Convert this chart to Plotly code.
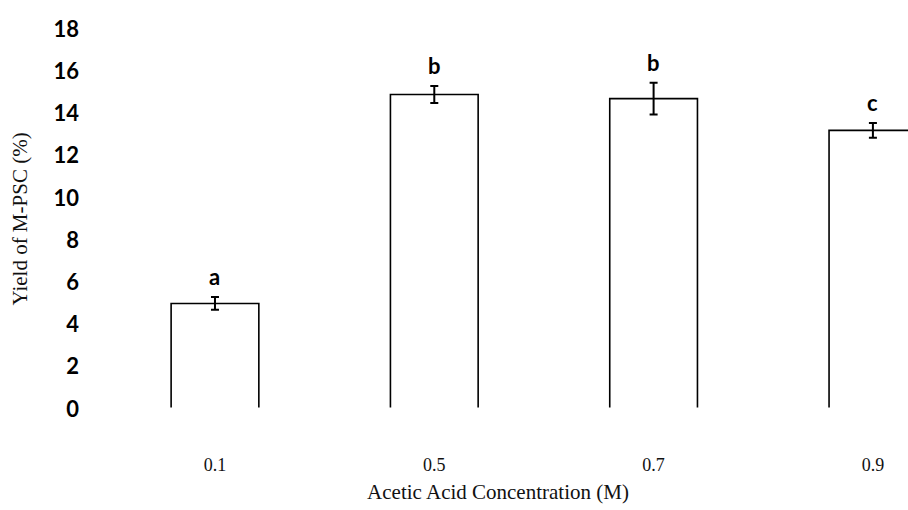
import plotly.graph_objects as go

categories = ["0.1", "0.5", "0.7", "0.9"]
yield_values = [5.0, 14.9, 14.7, 13.2]
yield_errors = [0.3, 0.4, 0.75, 0.35]
group_letters = ["a", "b", "b", "c"]
y_ticks = [0, 2, 4, 6, 8, 10, 12, 14, 16, 18]

fig = go.Figure()
fig.add_trace(go.Bar(
    x=categories, y=yield_values,
    width=0.4,
    marker=dict(color="white", line=dict(color="black", width=1.6)),
    error_y=dict(type="data", array=yield_errors, visible=True,
                 color="black", thickness=2, width=4),
    showlegend=False,
))

for i, (v, e, lab) in enumerate(zip(yield_values, yield_errors, group_letters)):
    fig.add_annotation(x=i, y=v + e, text=lab, showarrow=False,
                       yanchor="bottom", yshift=5,
                       font=dict(family="Lato", size=22, color="black", weight="bold"))

# hide bottom edges of bars (no baseline in reference)
fig.add_shape(type="line", xref="paper", x0=0, x1=1, yref="y", y0=0, y1=0,
              line=dict(color="white", width=3), layer="above")

fig.update_layout(
    width=908, height=510,
    margin=dict(l=88, r=0, t=29, b=101),
    plot_bgcolor="white", paper_bgcolor="white",
    bargap=0.6,
)
fig.update_xaxes(
    type="category", range=[-0.579, 3.160],
    showline=False, showgrid=False, zeroline=False, ticks="",
    tickfont=dict(family="Liberation Serif", size=18, color="#111"),
    ticklabelstandoff=43,
    title=dict(text="Acetic Acid Concentration (M)",
               font=dict(family="Liberation Serif", size=21, color="#111"),
               standoff=10),
)
fig.update_yaxes(
    range=[0, 18], tickvals=y_ticks,
    showline=False, showgrid=False, zeroline=False, ticks="",
    tickfont=dict(family="Lato", size=22, color="black", weight="bold"),
    ticklabelstandoff=8,
    title=dict(text="Yield of M-PSC (%)",
               font=dict(family="Liberation Serif", size=21, color="#111"),
               standoff=20),
)

fig.write_html("out.html")
